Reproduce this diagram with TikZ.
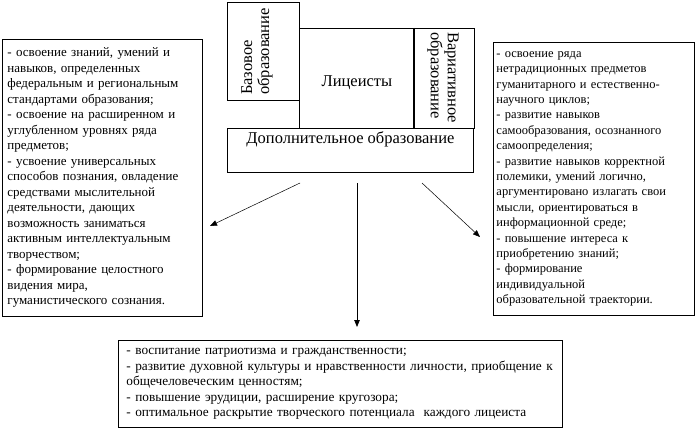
\documentclass[tikz,border=0pt]{standalone}
\usepackage{fontspec}
\setmainfont{Liberation Serif}
\usetikzlibrary{arrows.meta}

\begin{document}
\begin{tikzpicture}
	[
		x=1pt, y=-1pt,
		box/.style = {shape=rectangle, draw, line width=0.9pt, anchor=north west, inner sep=0pt},
		listbox/.style = {box, align=left, inner xsep=5pt, font=\fontsize{13}{15.5}\selectfont},
		headtext/.style = {font=\fontsize{16.5}{17}\selectfont},
		vtext/.style = {headtext, align=left, inner sep=0pt},
		arr/.style = {-{Triangle[length=7pt,width=5.5pt]}, line width=0.5pt}
	]
	
	\useasboundingbox (0,0) rectangle (695,428);
	
	% top block
	\node [box, minimum width=72pt, minimum height=98pt] (baz) at (227,2) {};
	\node [box, headtext, minimum width=115pt, minimum height=100pt, text height=19pt, text depth=3.5pt] (lic) at (299,28) {Лицеисты};
	\node [box, minimum width=60pt, minimum height=100pt] (var) at (414,28) {};
	\draw [line width=2pt] (var.north west) -- (var.south west);
	\node [box, headtext, minimum width=246pt, minimum height=44pt, text height=15pt, text depth=29pt] (dop) at (227,128) {Дополнительное образование};
	
	\node [vtext, rotate=90, anchor=west] (bazText) at (257,95) {Базовое\\образование};
	\node [vtext, rotate=-90, anchor=west] (varText) at (443,32) {Вариативное\\образование};
	
	% lists
	\node [listbox, text width=190pt, minimum height=277pt] (left) at (2,39) {%
		- освоение знаний, умений и\\
		навыков, определенных\\
		федеральным и региональным\\
		стандартами образования;\\
		- освоение на расширенном и\\
		углубленном уровнях ряда\\
		предметов;\\
		- усвоение универсальных\\
		способов познания, овладение\\
		средствами мыслительной\\
		деятельности, дающих\\
		возможность заниматься\\
		активным интеллектуальным\\
		творчеством;\\
		- формирование целостного\\
		видения мира,\\
		гуманистического сознания.};
	
	\node [listbox, inner xsep=3pt, text width=195pt, minimum height=273pt, font=\fontsize{12.5}{15.4}\selectfont] (right) at (493,42) {%
		- освоение ряда\\
		нетрадиционных предметов\\
		гуманитарного и естественно-\\
		научного циклов;\\
		- развитие навыков\\
		самообразования, осознанного\\
		самоопределения;\\
		- развитие навыков корректной\\
		полемики, умений логично,\\
		аргументировано излагать свои\\
		мысли, ориентироваться в\\
		информационной среде;\\
		- повышение интереса к\\
		приобретению знаний;\\
		- формирование\\
		индивидуальной\\
		образовательной траектории.};
	
	\node [listbox, inner xsep=8pt, text width=428pt, minimum height=87pt, font=\fontsize{13.3}{15.5}\selectfont] (bottom) at (118,340) {%
		- воспитание патриотизма и гражданственности;\\
		- развитие духовной культуры и нравственности личности, приобщение к\\
		общечеловеческим ценностям;\\
		- повышение эрудиции, расширение кругозора;\\
		- оптимальное раскрытие творческого потенциала\ \ каждого лицеиста};
	
	% arrows
	\coordinate (aL) at (300,183);
	\coordinate (aM) at (357,183);
	\coordinate (aR) at (422,183);
	\coordinate (eL) at (210,226);
	\coordinate (eM) at (357,327);
	\coordinate (eR) at (480,237);
	
	\draw [arr] (aL) -- (eL);
	\draw [arr, line width=0.8pt] (aM) -- (eM);
	\draw [arr] (aR) -- (eR);
	
\end{tikzpicture}
\end{document}
